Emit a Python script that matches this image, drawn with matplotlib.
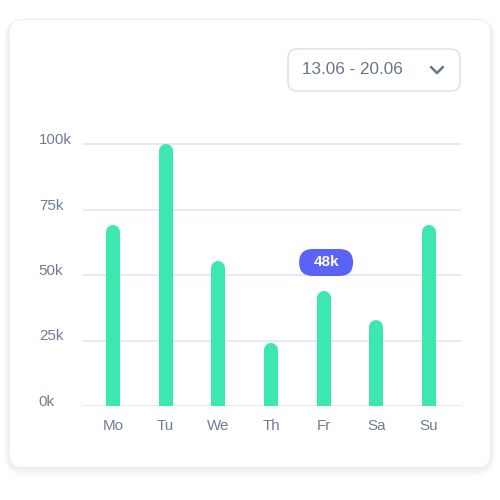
import matplotlib
matplotlib.use("Agg")
import matplotlib.pyplot as plt
from matplotlib.patches import FancyBboxPatch
from matplotlib.lines import Line2D
from matplotlib.transforms import IdentityTransform

days = ["Mo", "Tu", "We", "Th", "Fr", "Sa", "Su"]
visits = [69000, 100000, 55500, 24000, 44000, 33000, 69000]
y_ticks = [0, 25000, 50000, 75000, 100000]
y_tick_labels = ["0k", "25k", "50k", "75k", "100k"]
date_range = "13.06 - 20.06"
highlight_day = "Fr"
highlight_label = "48k"

GREEN = "#3ce7b0"
BLUE = "#5b63f5"
TEXT = "#6f7d93"
GRID = "#dfe6ee"

W = H = 500
plt.rcParams["font.family"] = ["Liberation Sans", "DejaVu Sans"]
fig = plt.figure(figsize=(W / 100, H / 100), dpi=100)
fig.patch.set_facecolor("white")
ident = IdentityTransform()


def box(x0, y0, x1, y1, r, **kw):
    # pixel box, y measured from the top
    return FancyBboxPatch((x0, H - y1), x1 - x0, y1 - y0,
                          boxstyle=f"round,pad=0,rounding_size={r}",
                          transform=ident, **kw)


# card with soft shadow, kept behind the axes
for i in range(10, 0, -1):
    fig.add_artist(box(10 - i * 0.6, 20 - i * 0.2, 490 + i * 0.6, 467 + i * 1.0,
                       12 + i, facecolor="#8a94a6", edgecolor="none",
                       alpha=0.01, zorder=-3))
fig.add_artist(box(10, 20, 490, 467, 12, facecolor="white", edgecolor="none",
                   zorder=-2))

# date dropdown
fig.add_artist(box(288, 49, 460, 91, 9, facecolor="white",
                   edgecolor="#dde2ea", linewidth=1.1, zorder=-1))
fig.text(302 / W, 1 - 70 / H, date_range, fontsize=12.3, color="#66758c",
         ha="left", va="center")
fig.add_artist(Line2D([431, 437, 443], [H - 67, H - 73, H - 67], color="#66758c",
                      linewidth=1.8, solid_capstyle="round",
                      solid_joinstyle="round", transform=ident))

# plotting area: y=0 at 406px, 100k at 144px
x_left, x_right = 82.5, 461
y_zero, y_top = 406, 144
ymax = 115000
px_per_unit = (y_zero - y_top) / 100000
ax_h = ymax * px_per_unit
ax = fig.add_axes([x_left / W, (H - y_zero) / H, (x_right - x_left) / W, ax_h / H])
ax.set_facecolor("none")
ax.set_xlim(-0.58, 6.61)
ax.set_ylim(0, ymax)
for s in ax.spines.values():
    s.set_visible(False)

for t in y_ticks:
    ax.axhline(t, color=GRID, linewidth=1.1, zorder=0)

bar_px = 14
r_data = (bar_px / 2) / px_per_unit
xs = list(range(len(days)))
ax.vlines(xs, 0, [v - r_data for v in visits], color=GREEN,
          linewidth=bar_px * 72 / 100, capstyle="round", zorder=2)

ax.set_xticks(xs)
ax.set_xticklabels(days)
ax.set_yticks(y_ticks)
ax.set_yticklabels(y_tick_labels)
ax.tick_params(axis="both", length=0, colors=TEXT, labelsize=10.9)
ax.tick_params(axis="x", pad=9.5)
ax.tick_params(axis="y", pad=31.5)
for lab in ax.get_yticklabels():
    lab.set_ha("left")
    lab.set_va("baseline")

# tooltip pill above the highlighted bar
fig.canvas.draw()
hx = days.index(highlight_day)
cx, cy = ax.transData.transform((hx, 0))
cx = cx + 2.5
cy = H - 262.5
fig.add_artist(FancyBboxPatch((cx - 27, cy - 13.5), 54, 27,
                              boxstyle="round,pad=0,rounding_size=13.5",
                              transform=ident, facecolor=BLUE,
                              edgecolor="none", zorder=5))
fig.text(cx / W, cy / H, highlight_label, fontsize=11, fontweight="bold",
         color="white", ha="center", va="center", zorder=6)

fig.savefig("out.png", dpi=100, facecolor="white")
